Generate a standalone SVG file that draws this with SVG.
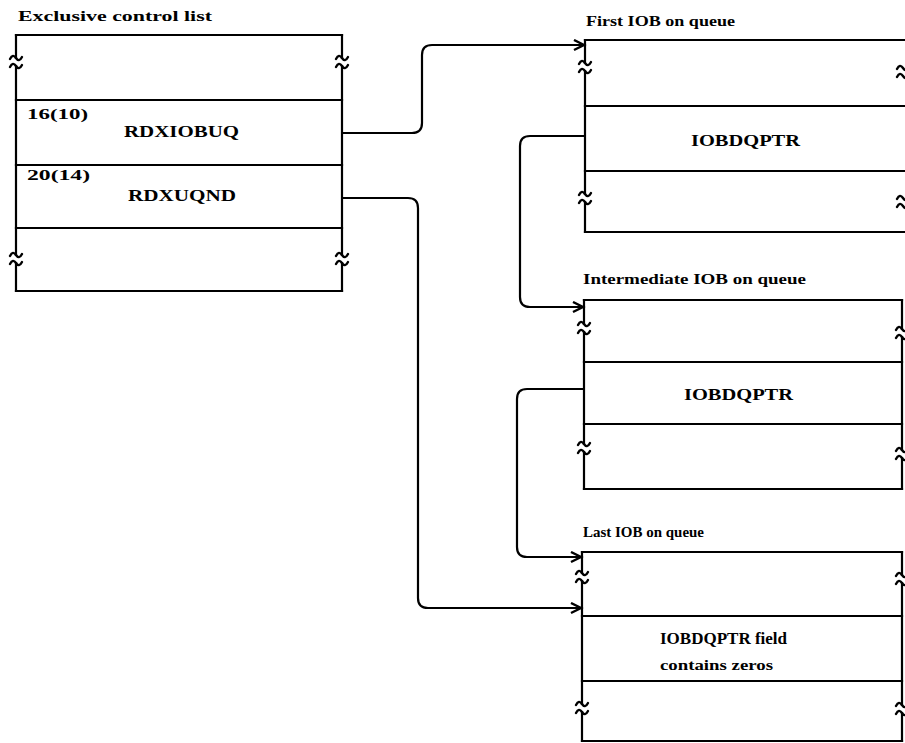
<svg xmlns="http://www.w3.org/2000/svg" xmlns:xlink="http://www.w3.org/1999/xlink" width="905" height="743" viewBox="0 0 905 743">
<style>
.ln{fill:none;stroke:#000;stroke-width:2.2;stroke-linecap:square}
.cn{fill:none;stroke:#000;stroke-width:2.2}
.bk{fill:none;stroke:#000;stroke-width:2.4;stroke-linecap:round}
.t{font-family:"Liberation Serif","Times New Roman",serif;font-weight:bold;fill:#000}
.ttl{font-size:15px}
.lbl{font-size:16px}
.off{font-size:14px}
</style>
<defs>
<marker id="arr" markerWidth="14" markerHeight="14" refX="11" refY="6" orient="auto" markerUnits="userSpaceOnUse">
<path d="M1,1 L11,6 L1,11" fill="none" stroke="#000" stroke-width="2.4"/>
</marker>
<g id="brk">
<path class="bk" d="M-6,-3 C-4,-7 -2,-7 0,-4 S4,-1 6,-5"/>
<path class="bk" d="M-6,5 C-4,1 -2,1 0,4 S4,7 6,3"/>
</g>
</defs>
<rect width="905" height="743" fill="#fff"/>

<g id="exclusive-control-list">
<text class="t ttl" x="18" y="21" textLength="194" lengthAdjust="spacingAndGlyphs">Exclusive control list</text>
<path class="ln" d="M16,35 H342 M16,100 H342 M16,165 H342 M16,228 H342 M16,291 H342"/>
<path class="ln" d="M16,35 V58 M16,66 V255 M16,263 V291 M342,35 V58 M342,66 V255 M342,263 V291"/>
<use xlink:href="#brk" x="16" y="62"/>
<use xlink:href="#brk" x="16" y="259"/>
<use xlink:href="#brk" x="342" y="62"/>
<use xlink:href="#brk" x="342" y="259"/>
<text class="t off" x="27" y="119" textLength="61" lengthAdjust="spacingAndGlyphs">16(10)</text>
<text class="t lbl" x="124" y="137" textLength="115" lengthAdjust="spacingAndGlyphs">RDXIOBUQ</text>
<text class="t off" x="27" y="180" textLength="63" lengthAdjust="spacingAndGlyphs">20(14)</text>
<text class="t lbl" x="128" y="201" textLength="108" lengthAdjust="spacingAndGlyphs">RDXUQND</text>
</g>

<g id="first-iob">
<text class="t ttl" x="586" y="26" textLength="149" lengthAdjust="spacingAndGlyphs">First IOB on queue</text>
<path class="ln" d="M585,40 H905 M585,106 H905 M585,171 H905 M585,232 H905"/>
<path class="ln" d="M585,40 V63 M585,71 V194 M585,202 V232"/>
<use xlink:href="#brk" x="585" y="67"/>
<use xlink:href="#brk" x="585" y="198"/>
<use xlink:href="#brk" x="903" y="72"/>
<use xlink:href="#brk" x="903" y="202"/>
<text class="t lbl" x="691" y="146" textLength="109" lengthAdjust="spacingAndGlyphs">IOBDQPTR</text>
</g>

<g id="intermediate-iob">
<text class="t ttl" x="583" y="284" textLength="223" lengthAdjust="spacingAndGlyphs">Intermediate IOB on queue</text>
<path class="ln" d="M584,300 H902 M584,362 H902 M584,424 H902 M584,489 H902"/>
<path class="ln" d="M584,300 V324 M584,332 V444 M584,452 V489 M902,300 V329 M902,337 V450 M902,458 V489"/>
<use xlink:href="#brk" x="584" y="328"/>
<use xlink:href="#brk" x="584" y="448"/>
<use xlink:href="#brk" x="902" y="333"/>
<use xlink:href="#brk" x="902" y="454"/>
<text class="t lbl" x="684" y="400" textLength="109" lengthAdjust="spacingAndGlyphs">IOBDQPTR</text>
</g>

<g id="last-iob">
<text class="t ttl" x="583" y="537" textLength="121" lengthAdjust="spacingAndGlyphs">Last IOB on queue</text>
<path class="ln" d="M582,552 H902 M582,616 H902 M582,681 H902 M582,741 H902"/>
<path class="ln" d="M582,552 V573 M582,581 V704 M582,712 V741 M902,552 V575 M902,583 V705 M902,713 V741"/>
<use xlink:href="#brk" x="582" y="577"/>
<use xlink:href="#brk" x="582" y="708"/>
<use xlink:href="#brk" x="902" y="579"/>
<use xlink:href="#brk" x="902" y="709"/>
<text class="t lbl" x="660" y="644" textLength="127" lengthAdjust="spacingAndGlyphs">IOBDQPTR field</text>
<text class="t off" x="660" y="670" textLength="113" lengthAdjust="spacingAndGlyphs">contains zeros</text>
</g>

<g id="connectors">
<path class="cn" d="M342,133 H412 Q422,133 422,123 V55 Q422,45 432,45 H584" marker-end="url(#arr)"/>
<path class="cn" d="M342,198 H408 Q418,198 418,208 V598 Q418,608 428,608 H581" marker-end="url(#arr)"/>
<path class="cn" d="M585,136 H530 Q520,136 520,146 V297 Q520,307 530,307 H583" marker-end="url(#arr)"/>
<path class="cn" d="M584,389 H527 Q517,389 517,399 V547 Q517,557 527,557 H581" marker-end="url(#arr)"/>
</g>
</svg>
